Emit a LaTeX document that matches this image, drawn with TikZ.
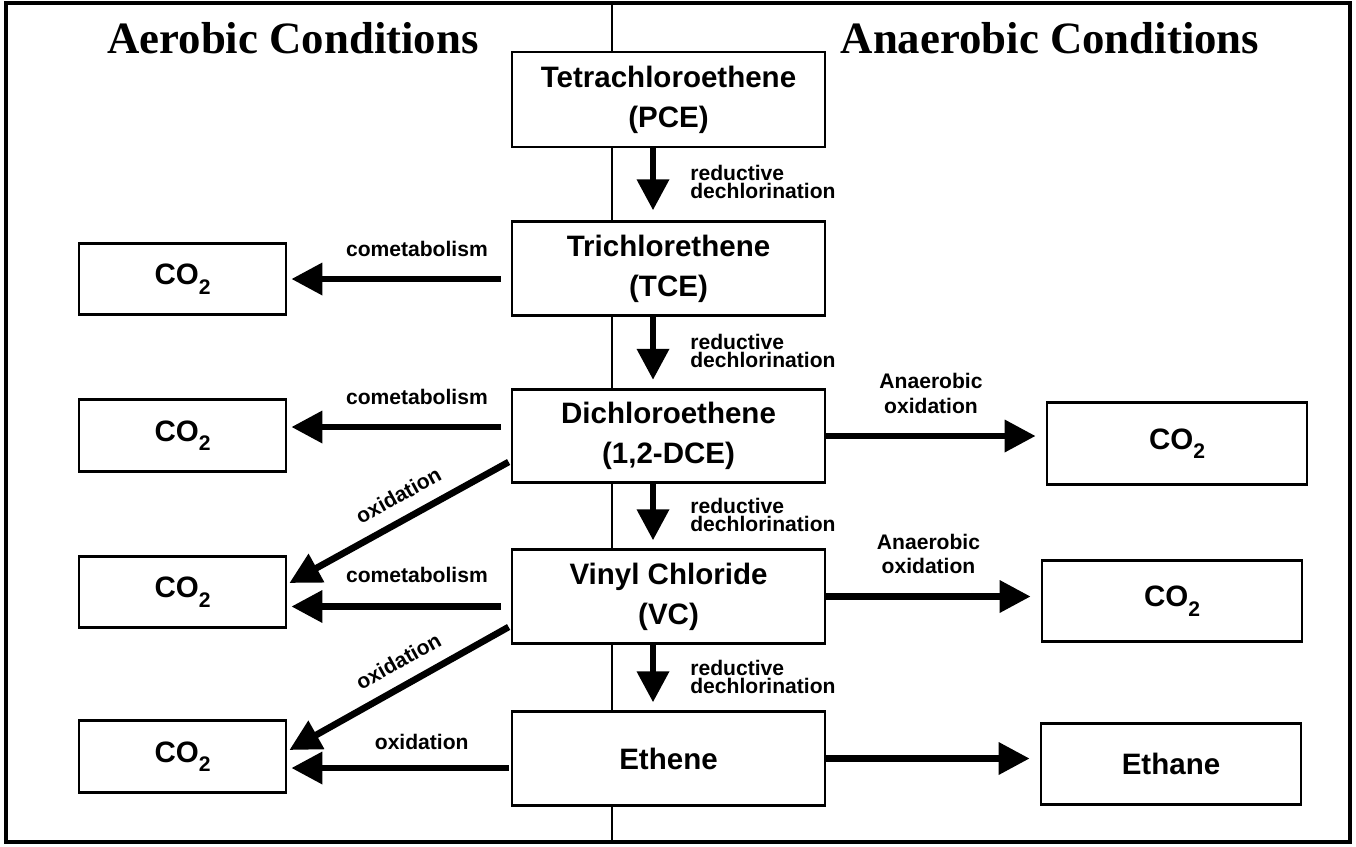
\documentclass[tikz,border=0pt]{standalone}
\usepackage{fontspec}
\setmainfont{Liberation Serif}
\newfontfamily\labelfont{Liberation Sans}
\usetikzlibrary{arrows.meta,calc}

\newcommand{\cotwo}{CO\raisebox{-0.32em}{\fontsize{12pt}{12pt}\selectfont 2}}

\tikzset{
  chembox/.style={draw, line width=1.6pt, fill=white, minimum width=6.26cm, minimum height=1.87cm,
    inner sep=0pt, align=center, font=\labelfont\bfseries\fontsize{16.8pt}{22.8pt}\selectfont},
  co2box/.style={chembox, minimum width=4.14cm, minimum height=1.43cm},
  prodbox/.style={chembox, minimum width=5.2cm, minimum height=1.63cm},
  sidetitle/.style={anchor=base, inner sep=0pt, font=\bfseries\fontsize{25.5pt}{30pt}\selectfont},
  arr/.style={line width=3.8pt, -{Triangle[length=0.62cm, width=0.62cm]}},
  lbl/.style={inner sep=0pt, align=center, font=\labelfont\bfseries\fontsize{12pt}{14pt}\selectfont},
  rdlbl/.style={lbl, anchor=west, align=left, xshift=0.68cm, yshift=-0.06cm,
    font=\labelfont\bfseries\fontsize{12pt}{10.3pt}\selectfont}
}

\begin{document}
\begin{tikzpicture}[x=0.02cm, y=-0.02cm]
	\useasboundingbox (0,0) rectangle (1356,846);
	% frame and split between the two columns
	\draw [line width=2pt] (6,3) rectangle (1350,842);
	\draw [line width=1.2pt] (612,3) -- (612,842);

	\node [sidetitle] (aerob) at (293,53) {Aerobic Conditions};
	\node [sidetitle] (anaerob) at (1050,53) {Anaerobic Conditions};

	% main chain
	\node [chembox, minimum height=1.9cm] (pce) at (668.5,99.5) {Tetrachloroethene\\(PCE)};
	\node [chembox] (tce) at (668.5,268.5) {Trichlorethene\\(TCE)};
	\node [chembox] (dce) at (668.5,436) {Dichloroethene\\(1,2-DCE)};
	\node [chembox] (vc) at (668.5,596.5) {Vinyl Chloride\\(VC)};
	\node [chembox] (eth) at (668.5,758.5) {Ethene};

	% aerobic products
	\node [co2box] (co2a) at (182.5,279) {\cotwo};
	\node [co2box] (co2b) at (182.5,435.5) {\cotwo};
	\node [co2box] (co2c) at (182.5,592) {\cotwo};
	\node [co2box] (co2d) at (182.5,756.5) {\cotwo};

	% anaerobic products
	\node [prodbox] (co2e) at (1177,443.5) {\cotwo};
	\node [prodbox] (co2f) at (1172,601) {\cotwo};
	\node [prodbox] (ethane) at (1171,764) {Ethane};

	% reductive dechlorination steps
	\draw [arr] ($(pce.south)+(-0.31cm,0)$) -- node [rdlbl] {reductive\\dechlorination} ($(tce.north)+(-0.31cm,0.2cm)$);
	\draw [arr] ($(tce.south)+(-0.31cm,0)$) -- node [rdlbl] {reductive\\dechlorination} ($(dce.north)+(-0.31cm,0.16cm)$);
	\draw [arr] ($(dce.south)+(-0.31cm,0)$) -- node [rdlbl] {reductive\\dechlorination} ($(vc.north)+(-0.31cm,0.16cm)$);
	\draw [arr] ($(vc.south)+(-0.31cm,0)$) -- node [rdlbl] {reductive\\dechlorination} ($(eth.north)+(-0.31cm,0.16cm)$);

	% aerobic side
	\draw [arr] ($(tce.west |- co2a.east)+(-0.2cm,0)$) -- node [lbl, pos=0.4, above=0.38cm] {cometabolism} ($(co2a.east)+(0.08cm,0)$);
	\draw [arr] ($(dce.west)+(-0.2cm,0.18cm)$) -- node [lbl, pos=0.4, above=0.38cm] {cometabolism} ($(dce.west -| co2b.east)+(0.08cm,0.18cm)$);
	\draw [arr] ($(vc.west)+(-0.2cm,-0.2cm)$) -- node [lbl, pos=0.4, above=0.4cm] {cometabolism} ($(vc.west -| co2c.east)+(0.08cm,-0.2cm)$);
	\draw [arr] ($(eth.west)+(-0.04cm,-0.19cm)$) -- node [lbl, pos=0.4, above=0.3cm] {oxidation} ($(eth.west -| co2d.east)+(0.08cm,-0.19cm)$);
	\draw [arr] ($(dce.west)+(-0.04cm,-0.52cm)$) -- node [lbl, pos=0.45, sloped, above=0.26cm] {oxidation} ($(co2c.east)+(0.04cm,0.18cm)$);
	\draw [arr] ($(vc.west)+(-0.04cm,-0.61cm)$) -- node [lbl, pos=0.45, sloped, above=0.26cm] {oxidation} ($(co2d.east)+(0.04cm,0.13cm)$);

	% anaerobic side
	\draw [arr] (dce.east) -- node [lbl, above=0.38cm] {Anaerobic\\oxidation} ($(dce.east -| co2e.west)+(-0.2cm,0)$);
	\draw [arr] (vc.east) -- node [lbl, above=0.38cm] {Anaerobic\\oxidation} ($(vc.east -| co2f.west)+(-0.2cm,0)$);
	\draw [arr] (eth.east) -- ($(eth.east -| ethane.west)+(-0.2cm,0)$);
\end{tikzpicture}
\end{document}
